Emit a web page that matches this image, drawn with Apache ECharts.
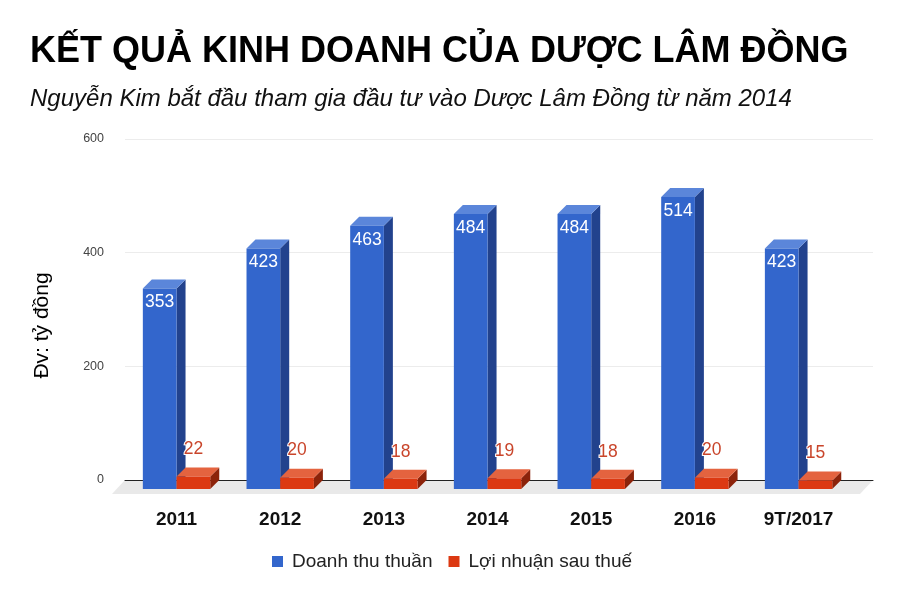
<!DOCTYPE html>
<html>
<head>
<meta charset="utf-8">
<script src="https://cdn.jsdelivr.net/npm/echarts@6/dist/echarts.min.js"></script>
<style>
html,body{margin:0;padding:0;background:#fff;}
#chart{width:904px;height:603px;}
</style>
</head>
<body>
<div id="chart"></div>
<script>
const categories = ['2011', '2012', '2013', '2014', '2015', '2016', '9T/2017'];
const revenue = [353, 423, 463, 484, 484, 514, 423];
const profit = [22, 20, 18, 19, 18, 20, 15];
const yTicks = [0, 200, 400, 600];
const seriesNames = ['Doanh thu thuần', 'Lợi nhuận sau thuế'];

const FONT = '"Liberation Sans", Arial, sans-serif';
const DEPTH = 9;
const BAR_FRAC = 0.325;

const blueStyle = { front: '#3366cc', top: '#5b86da', side: '#22428d' };
const redStyle = { front: '#dc3912', top: '#e4633f', side: '#8c230a' };

function make3D(style, leftSide, labelInside) {
  return function (params, api) {
    const idx = api.value(0);
    const v = api.value(1);
    const top = api.coord([idx, v]);
    const base = api.coord([idx, 0]);
    const band = api.size([1, 0])[0];
    const bw = band * BAR_FRAC;
    const x0 = leftSide ? top[0] - bw : top[0];
    const x1 = x0 + bw;
    const y0 = top[1];
    const y1 = base[1];
    const d = DEPTH;
    const children = [
      { type: 'polygon', shape: { points: [[x1, y0], [x1 + d, y0 - d], [x1 + d, y1 - d], [x1, y1]] }, style: { fill: style.side } },
      { type: 'polygon', shape: { points: [[x0, y0], [x0 + d, y0 - d], [x1 + d, y0 - d], [x1, y0]] }, style: { fill: style.top } },
      { type: 'rect', shape: { x: x0, y: y0, width: bw, height: y1 - y0 }, style: { fill: style.front } }
    ];
    if (labelInside) {
      children.push({ type: 'text', style: { text: String(v), x: (x0 + x1) / 2, y: y0 + 14, align: 'center', verticalAlign: 'middle', fill: '#ffffff', font: '17.5px ' + FONT } });
    } else {
      children.push({ type: 'text', style: { text: String(v), x: (x0 + x1) / 2, y: y0 - 27, align: 'center', verticalAlign: 'middle', fill: '#c9452b', font: '17.5px ' + FONT, stroke: '#ffffff', lineWidth: 2 } });
    }
    return { type: 'group', children: children };
  };
}

const chart = echarts.init(document.getElementById('chart'), null, { renderer: 'canvas' });

const option = {
  backgroundColor: '#ffffff',
  animation: false,
  textStyle: { fontFamily: FONT },
  title: [
    { text: 'KẾT QUẢ KINH DOANH CỦA DƯỢC LÂM ĐỒNG', left: 30, top: 34, padding: 0,
      textStyle: { fontSize: 36, fontWeight: 'bold', color: '#000000', fontFamily: FONT } },
    { text: 'Nguyễn Kim bắt đầu tham gia đầu tư vào Dược Lâm Đồng từ năm 2014', left: 30, top: 87, padding: 0,
      textStyle: { fontSize: 24, fontStyle: 'italic', fontWeight: 'normal', color: '#111111', fontFamily: FONT } }
  ],
  legend: {
    data: seriesNames,
    left: 267, top: 547,
    icon: 'rect', itemWidth: 11, itemHeight: 11, itemGap: 16,
    textStyle: { fontSize: 19, color: '#222222', fontFamily: FONT, padding: [0, 0, 0, 4] }
  },
  grid: [
    { left: 124.7, right: 53.6, top: 148, bottom: 114 },
    { left: 125, right: 31, top: 139, bottom: 123 }
  ],
  xAxis: [
    { type: 'category', gridIndex: 0, data: categories,
      axisLine: { show: false }, axisTick: { show: false }, splitLine: { show: false },
      axisLabel: { fontSize: 19, fontWeight: 'bold', color: '#111111', margin: 21, fontFamily: FONT } },
    { type: 'value', gridIndex: 1, min: 0, max: 1, z: 1,
      axisLine: { show: true, onZero: false, lineStyle: { color: '#222222', width: 1 } },
      axisTick: { show: false }, axisLabel: { show: false }, splitLine: { show: false } }
  ],
  yAxis: [
    { type: 'value', gridIndex: 0, min: 0, max: 600, show: false, splitLine: { show: false } },
    { type: 'value', gridIndex: 1, min: yTicks[0], max: yTicks[yTicks.length - 1], interval: 200,
      name: 'Đv: tỷ đồng', nameLocation: 'middle', nameGap: 72, nameRotate: 90,
      nameTextStyle: { fontSize: 21, color: '#000000', fontFamily: FONT, padding: [0, 32, 0, 0] },
      axisLine: { show: false }, axisTick: { show: false },
      axisLabel: { fontSize: 12.5, color: '#444444', margin: 21, fontFamily: FONT },
      splitLine: { lineStyle: { color: '#ececec', width: 1 } } }
  ],
  series: [
    { type: 'custom', name: 'floor', xAxisIndex: 1, yAxisIndex: 1, z: 0, silent: true,
      data: [[0, 1]],
      renderItem: function (params, api) {
        const p0 = api.coord([api.value(0), 0]);
        const p1 = api.coord([api.value(1), 0]);
        return { type: 'polygon', shape: { points: [p0, p1, [p1[0] - 13, p1[1] + 14], [p0[0] - 13, p0[1] + 14]] }, style: { fill: '#e9e9e9' } };
      },
      encode: { x: [0, 1] }
    },
    { type: 'custom', name: seriesNames[0], xAxisIndex: 0, yAxisIndex: 0, z: 3,
      itemStyle: { color: blueStyle.front },
      data: categories.map((c, i) => [i, revenue[i]]),
      encode: { x: 0, y: 1 },
      renderItem: make3D(blueStyle, true, true) },
    { type: 'custom', name: seriesNames[1], xAxisIndex: 0, yAxisIndex: 0, z: 4,
      itemStyle: { color: redStyle.front },
      data: categories.map((c, i) => [i, profit[i]]),
      encode: { x: 0, y: 1 },
      renderItem: make3D(redStyle, false, false) }
  ]
};
chart.setOption(option);
</script>
</body>
</html>
